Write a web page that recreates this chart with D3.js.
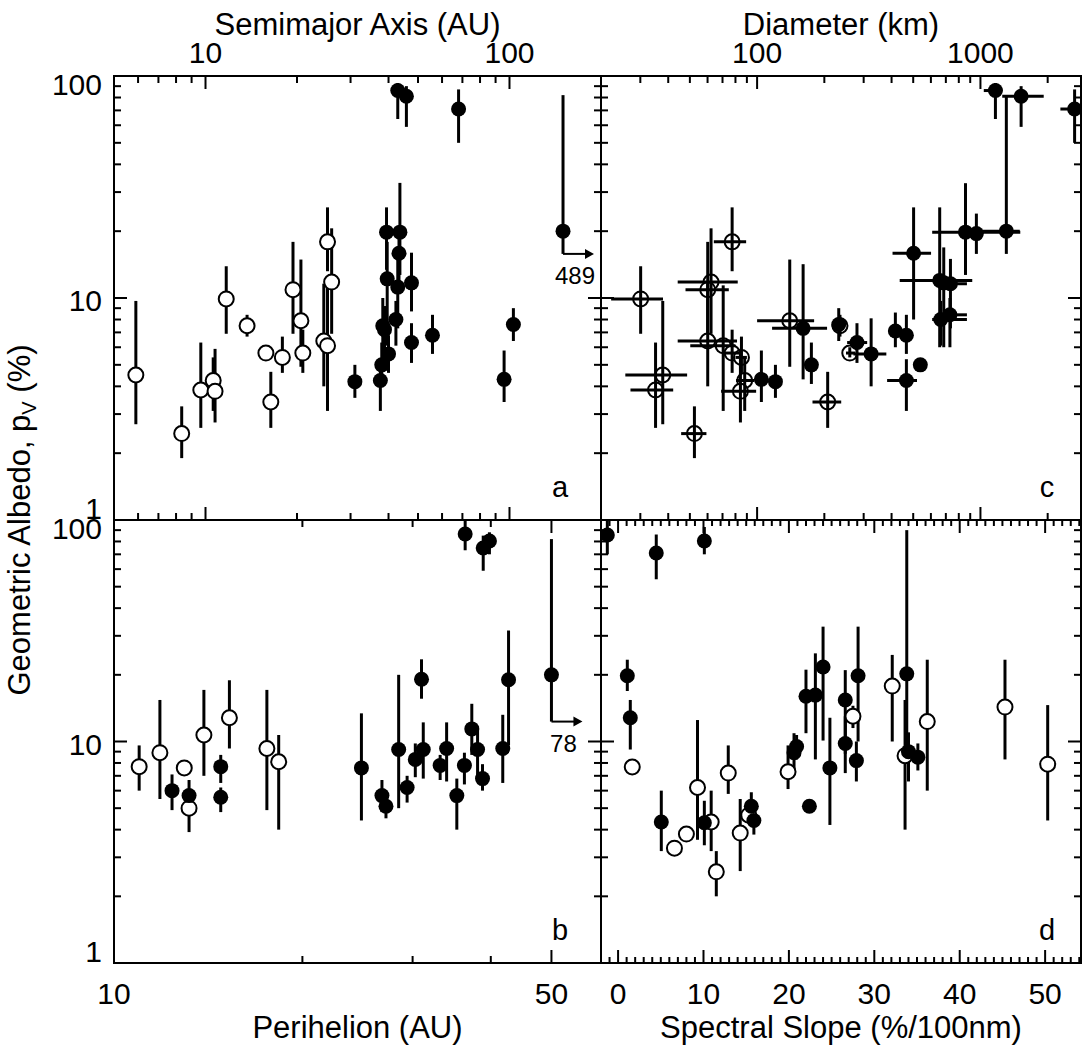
<!DOCTYPE html>
<html>
<head>
<meta charset="utf-8">
<script src="https://cdn.jsdelivr.net/npm/d3@7"></script>
<style>
  body { margin: 0; background: #fff; }
  text { font-family: "Liberation Sans", Arial, Helvetica, sans-serif; fill: #000; }
</style>
</head>
<body>
<div id="chart"></div>
<script>
//albedo vs orbit / size / colour, four panels a-d

//panel a : semimajor axis (AU), albedo (%), albedo low, albedo high
var semiOpen = [
  [5.9, 4.5, 2.7, 9.7], [8.35, 2.45, 1.9, 3.25], [9.65, 3.85, 2.6, 6.3],
  [10.6, 4.25, 3.1, 5.4], [10.75, 3.8, 2.75, 5.9], [11.7, 9.9, 6.9, 13.9],
  [13.7, 7.5, 6.7, 8.4], [15.8, 5.65, 5.4, 6.0], [16.4, 3.4, 2.6, 4.65],
  [17.9, 5.4, 4.6, 6.7], [19.4, 10.9, 6.9, 17.9], [20.6, 7.9, 4.9, 14.9],
  [20.9, 5.65, 4.6, 7.2], [24.5, 6.4, 4.0, 11.6], [25.2, 6.1, 3.1, 11.4],
  [25.2, 17.9, 13.2, 25.6], [26.0, 11.8, 6.9, 20.6]
];
var semiFilled = [
  [31.0, 4.2, 3.55, 5.0], [37.6, 4.25, 3.1, 5.3], [38.0, 5.0, 4.1, 6.3],
  [38.3, 7.5, 5.3, 10.0], [38.8, 7.2, 5.6, 9.2], [39.4, 19.8, 13.4, 25.6],
  [39.6, 12.2, 6.1, 17.9], [40.0, 5.6, 4.6, 6.8], [42.3, 8.0, 6.1, 9.7],
  [42.9, 11.2, 7.3, 14.9], [43.3, 15.9, 12.0, 20.5], [43.6, 19.8, 12.7, 33.0],
  [42.9, 86, 64, 93], [45.8, 81, 59, 90], [47.6, 11.7, 8.7, 16.0],
  [47.6, 6.3, 5.1, 7.7], [55.8, 6.8, 5.6, 8.4], [68.0, 71, 50, 87],
  [96.0, 4.3, 3.4, 5.8], [103, 7.6, 6.4, 9.0]
];
//object plotted at the edge with an arrow: axis value, albedo, low, high, true value
var semiArrow = [150, 20, 15.8, 82, "489"];

//panel b : perihelion (AU)
var periOpen = [
  [10.97, 7.7, 6.0, 9.6], [11.84, 8.9, 5.5, 15.4], [12.95, 7.6, 7.2, 8.0],
  [13.18, 5.0, 3.9, 6.0], [13.92, 10.7, 7.0, 17.1], [15.29, 12.8, 9.3, 18.9],
  [17.55, 9.3, 4.9, 17.1], [18.33, 8.1, 4.0, 10.7]
];
var periFilled = [
  [12.38, 6.0, 4.9, 7.1], [13.18, 5.7, 4.8, 6.7], [14.81, 7.7, 6.5, 8.7],
  [14.81, 5.6, 4.8, 6.2], [24.85, 7.6, 4.4, 13.4], [26.8, 5.7, 4.8, 6.7],
  [27.2, 5.1, 4.5, 5.8], [28.5, 9.2, 5.0, 20.0], [29.4, 6.2, 5.3, 7.0],
  [30.3, 8.3, 6.9, 9.8], [31.0, 19.1, 15.6, 23.5], [31.2, 9.2, 6.8, 12.2],
  [33.2, 7.8, 6.7, 8.7], [34.0, 9.3, 6.6, 12.2], [35.3, 5.7, 4.0, 6.8],
  [36.3, 7.8, 6.4, 8.9], [37.3, 11.4, 8.7, 14.8], [38.1, 9.2, 6.9, 11.7],
  [38.8, 6.8, 6.0, 7.9], [42.7, 19.0, 9.6, 31.7], [41.8, 9.3, 6.5, 13.2],
  [36.4, 86.5, 73, 100], [38.9, 74.7, 59, 85], [39.8, 80.4, 70, 88]
];
var periArrow = [50, 20, 12.3, 82, "78"];

//panel c : diameter (km), diameter low, diameter high, albedo, low, high
var diamOpen = [
  [30.1, 22.2, 37.9, 9.9, 6.9, 13.9], [37.8, 25.7, 48.6, 4.5, 2.7, 9.7],
  [35.1, 27.1, 42.1, 3.85, 2.6, 6.3], [52.4, 45.7, 59.3, 2.45, 1.9, 3.25],
  [62.2, 44.1, 81.9, 11.8, 6.9, 20.6], [60.1, 47.8, 74.7, 10.9, 6.9, 17.9],
  [60.1, 44.1, 81.3, 6.4, 4.0, 11.6], [70.5, 50.2, 80, 6.1, 3.1, 11.4],
  [77.3, 70, 86, 5.65, 4.6, 7.2], [77.3, 64.0, 89.3, 17.9, 13.2, 25.6],
  [85.1, 80, 90, 5.4, 4.6, 6.7], [88.0, 80.5, 97, 4.25, 3.1, 5.4],
  [84.2, 69.0, 99.0, 3.8, 2.75, 5.9], [140, 100, 180, 7.9, 4.9, 14.9],
  [207, 177, 238, 3.4, 2.6, 4.65], [260, 250, 275, 5.65, 5.4, 6.0],
  [235, 225, 245, 7.5, 6.7, 8.4]
];
var diamFilled = [
  [104.5, 100, 109, 4.3, 3.4, 5.8], [120.8, 115, 127, 4.2, 3.55, 5.0],
  [160.7, 116.7, 205.7, 7.3, 4.3, 14.2], [175, 165, 185, 5.0, 4.1, 6.3],
  [232, 222, 242, 7.6, 6.4, 9.0], [280, 253, 311, 6.3, 5.1, 7.7],
  [324, 270, 379, 5.6, 4.0, 8.1], [416, 405, 428, 7.1, 6.0, 8.6],
  [466, 455, 478, 6.8, 5.6, 8.4], [466, 382, 520, 4.25, 3.1, 5.3],
  [502, 404, 601, 15.9, 8.0, 25.6], [538, 538, 538, 5.0, 5.0, 5.0],
  [657, 435, 919, 12.0, 6.0, 25.6], [685, 670, 700, 11.7, 6.0, 16.9],
  [734, 620, 870, 11.6, 7.3, 15.0], [664, 608, 870, 8.0, 6.1, 9.7],
  [730, 700, 870, 8.4, 6.0, 10], [857, 608, 1508, 19.8, 12.7, 32.9],
  [959, 930, 990, 19.5, 15.8, 24], [1306, 1000, 1500, 20, 15.8, 82],
  [1167, 1035, 1252, 86, 64, 93], [1521, 1252, 1920, 81, 59, 90],
  [2640, 2280, 3000, 71, 50, 87]
];

//panel d : spectral slope (%/100nm), albedo, low, high
var slopeOpen = [
  [1.66, 7.67, 7.2, 8.1], [6.6, 3.3, 3.3, 3.3], [8.0, 3.82, 3.82, 3.82],
  [9.3, 6.2, 3.6, 12.5], [10.9, 4.33, 3.2, 6.0], [11.5, 2.58, 2.0, 3.2],
  [12.9, 7.2, 5.8, 9.6], [14.3, 3.86, 2.6, 5.5], [15.3, 4.65, 4.65, 4.65],
  [19.9, 7.3, 6.1, 9.6], [27.5, 13.0, 11.5, 14.5], [32.1, 17.8, 10.0, 24.6],
  [33.6, 8.63, 4.0, 15.4], [36.2, 12.3, 6.0, 23.4], [45.3, 14.3, 8.3, 23.4],
  [50.3, 7.9, 4.4, 14.6]
];
var slopeFilled = [
  [-1.26, 85.5, 70, 100], [4.47, 71, 54, 86], [10.1, 80.4, 70, 93],
  [1.08, 19.8, 16.9, 23.4], [1.43, 12.8, 9.2, 15.4], [5.06, 4.33, 3.2, 6.0],
  [10.1, 4.3, 3.4, 5.4], [15.6, 5.1, 4.5, 5.9], [15.9, 4.4, 3.8, 5.2],
  [20.6, 8.9, 7.4, 10.9], [20.9, 9.5, 8.3, 10.7], [22.0, 16.0, 10.9, 21.1],
  [22.4, 5.1, 4.8, 5.4], [23.1, 16.2, 8.3, 25], [24.0, 21.7, 10.1, 33],
  [24.8, 7.6, 4.2, 12.8], [26.6, 15.4, 8.8, 21], [26.6, 9.8, 7.2, 13],
  [27.9, 8.2, 6.6, 10], [28.1, 19.8, 10.0, 33], [33.8, 20.2, 8.3, 90],
  [34.0, 9.0, 6.6, 11], [35.1, 8.5, 7.4, 9.8]
];

//tick values
var albedoMajor = [1, 10, 100];
var albedoMinor = [2, 3, 4, 5, 6, 7, 8, 9, 20, 30, 40, 50, 60, 70, 80, 90];
var semiMajor = [10, 100];
var semiMinor = [6, 7, 8, 9, 20, 30, 40, 50, 60, 70, 80, 90, 200];
var periMajor = [10, 50];
var periMinor = [20, 30, 40];
var diamMajor = [100, 1000];
var diamMinor = [30, 40, 50, 60, 70, 80, 90, 200, 300, 400, 500, 600, 700, 800, 900, 2000];
var slopeMajor = [0, 10, 20, 30, 40, 50];
var slopeMinor = d3.range(-2, 55).filter(function(v){ return v % 10 !== 0; });

var w = 1086,
    h = 1049;

//frame edges
var L = 114, M = 601, R = 1081, T = 76, C = 520, B = 963;

var svg = d3.select("#chart").append("svg")
    .attr("width", w)
    .attr("height", h);

svg.append("rect")
    .attr("width", w)
    .attr("height", h)
    .attr("fill", "#fff");

//scales
var xSemi = d3.scaleLog().domain([5, 200]).range([L, M]);
var xPeri = d3.scaleLog().domain([10, 60]).range([L, M]);
var xDiam = d3.scaleLog().domain([20, 2820]).range([M, R]);
var xSlope = d3.scaleLinear().domain([-2, 54.2]).range([M, R]);
var yTop = d3.scaleLog().domain([1, 100]).range([C, T]);
var yBot = d3.scaleLog().domain([1, 100]).range([B, C]);

//clip paths, one per panel
var defs = svg.append("defs");
function addClip(id, x0, y0, x1, y1) {
  defs.append("clipPath").attr("id", id)
    .append("rect")
      .attr("x", x0).attr("y", y0)
      .attr("width", x1 - x0).attr("height", y1 - y0);
}
addClip("clipA", L, T, M, C);
addClip("clipB", L, C, M, B);
addClip("clipC", M, T, R, C);
addClip("clipD", M, C, R, B);

var axes = svg.append("g")
    .attr("stroke", "#000")
    .attr("stroke-width", 2)
    .attr("fill", "none");

//frames
axes.append("rect").attr("x", L).attr("y", T).attr("width", R - L).attr("height", B - T);
axes.append("line").attr("x1", M).attr("x2", M).attr("y1", T).attr("y2", B);
axes.append("line").attr("x1", L).attr("x2", R).attr("y1", C).attr("y2", C);

var MAJ = 13, MIN = 7;

function hTicks(scale, y, dir, majors, minors, minLen) {
  majors.forEach(function(v){
    axes.append("line")
      .attr("x1", scale(v)).attr("x2", scale(v))
      .attr("y1", y).attr("y2", y + dir * MAJ);
  });
  minors.forEach(function(v){
    axes.append("line")
      .attr("x1", scale(v)).attr("x2", scale(v))
      .attr("y1", y).attr("y2", y + dir * (minLen || MIN));
  });
}
function vTicks(scale, x, dir) {
  albedoMajor.forEach(function(v){
    axes.append("line")
      .attr("y1", scale(v)).attr("y2", scale(v))
      .attr("x1", x).attr("x2", x + dir * MAJ);
  });
  albedoMinor.forEach(function(v){
    axes.append("line")
      .attr("y1", scale(v)).attr("y2", scale(v))
      .attr("x1", x).attr("x2", x + dir * MIN);
  });
}

//panel a
hTicks(xSemi, T, 1, semiMajor, semiMinor);
hTicks(xSemi, C, -1, semiMajor, semiMinor);
vTicks(yTop, L, 1);
vTicks(yTop, M, -1);
//panel c
hTicks(xDiam, T, 1, diamMajor, diamMinor);
hTicks(xDiam, C, -1, diamMajor, diamMinor);
vTicks(yTop, M, 1);
vTicks(yTop, R, -1);
//panel b
hTicks(xPeri, C, 1, periMajor, periMinor);
hTicks(xPeri, B, -1, periMajor, periMinor);
vTicks(yBot, L, 1);
vTicks(yBot, M, -1);
//panel d
hTicks(xSlope, C, 1, slopeMajor, slopeMinor, 6);
hTicks(xSlope, B, -1, slopeMajor, slopeMinor, 6);
vTicks(yBot, M, 1);
vTicks(yBot, R, -1);

//tick labels
var labels = svg.append("g").attr("font-size", 30);

//albedo labels; top and bottom ones are nudged inside the panel
var yLabelShift = { 100: 8, 10: 2, 1: -12 };
[yTop, yBot].forEach(function(sc){
  albedoMajor.forEach(function(v){
    labels.append("text")
      .attr("x", 102)
      .attr("y", sc(v) + yLabelShift[v] + 11)
      .attr("text-anchor", "end")
      .text(v);
  });
});

semiMajor.forEach(function(v){
  labels.append("text").attr("x", xSemi(v)).attr("y", 63)
    .attr("text-anchor", "middle").text(v);
});
diamMajor.forEach(function(v){
  labels.append("text").attr("x", xDiam(v)).attr("y", 63)
    .attr("text-anchor", "middle").text(v);
});
periMajor.forEach(function(v){
  labels.append("text").attr("x", xPeri(v)).attr("y", 1004)
    .attr("text-anchor", "middle").text(v);
});
slopeMajor.forEach(function(v){
  labels.append("text").attr("x", xSlope(v)).attr("y", 1004)
    .attr("text-anchor", "middle").text(v);
});

//axis titles
var titles = svg.append("g").attr("font-size", 31).attr("text-anchor", "middle");
titles.append("text").attr("x", (L + M) / 2).attr("y", 35).text("Semimajor Axis (AU)");
titles.append("text").attr("x", (M + R) / 2).attr("y", 35).text("Diameter (km)");
titles.append("text").attr("x", (L + M) / 2).attr("y", 1038).text("Perihelion (AU)");
titles.append("text").attr("x", (M + R) / 2).attr("y", 1038).text("Spectral Slope (%/100nm)");

var ytitle = titles.append("text")
    .attr("transform", "translate(30," + C + ") rotate(-90)");
ytitle.append("tspan").text("Geometric Albedo, p");
ytitle.append("tspan").attr("font-size", 20).attr("dy", 6).text("V");
ytitle.append("tspan").attr("dy", -6).text(" (%)");

//panel letters
var letters = svg.append("g").attr("font-size", 29).attr("text-anchor", "middle");
letters.append("text").attr("x", 560).attr("y", 497).text("a");
letters.append("text").attr("x", 1047).attr("y", 497).text("c");
letters.append("text").attr("x", 560).attr("y", 940).text("b");
letters.append("text").attr("x", 1047).attr("y", 940).text("d");

var R_PT = 7.5;

//points with vertical error bars, circles drawn over the bars
function plotV(clip, xs, ys, open, filled) {
  var g = svg.append("g").attr("clip-path", "url(#" + clip + ")");
  var all = open.concat(filled);
  g.selectAll("line.err").data(all).enter().append("line")
    .attr("x1", function(d){ return xs(d[0]); })
    .attr("x2", function(d){ return xs(d[0]); })
    .attr("y1", function(d){ return ys(d[2]); })
    .attr("y2", function(d){ return ys(d[3]); })
    .attr("stroke", "#000")
    .attr("stroke-width", 3);
  g.selectAll("circle.open").data(open).enter().append("circle")
    .attr("cx", function(d){ return xs(d[0]); })
    .attr("cy", function(d){ return ys(d[1]); })
    .attr("r", R_PT)
    .attr("fill", "#fff")
    .attr("stroke", "#000")
    .attr("stroke-width", 2);
  g.selectAll("circle.fill").data(filled).enter().append("circle")
    .attr("cx", function(d){ return xs(d[0]); })
    .attr("cy", function(d){ return ys(d[1]); })
    .attr("r", R_PT)
    .attr("fill", "#000");
  return g;
}

function plotArrow(xs, ys, d) {
  var g = svg.append("g");
  var x0 = xs(d[0]), yp = ys(d[1]), yl = ys(d[2]);
  g.append("line")
    .attr("x1", x0).attr("x2", x0)
    .attr("y1", ys(d[3])).attr("y2", yl)
    .attr("stroke", "#000").attr("stroke-width", 3);
  g.append("line")
    .attr("x1", x0).attr("x2", x0 + 24)
    .attr("y1", yl).attr("y2", yl)
    .attr("stroke", "#000").attr("stroke-width", 2);
  g.append("path")
    .attr("d", "M" + (x0 + 31) + "," + yl + "L" + (x0 + 22) + "," + (yl - 5) + "L" + (x0 + 22) + "," + (yl + 5) + "Z")
    .attr("fill", "#000");
  g.append("circle")
    .attr("cx", x0).attr("cy", yp).attr("r", R_PT).attr("fill", "#000");
  g.append("text")
    .attr("x", x0 + 12).attr("y", yl + 30)
    .attr("font-size", 24)
    .attr("text-anchor", "middle")
    .text(d[4]);
}

plotV("clipA", xSemi, yTop, semiOpen, semiFilled);
plotArrow(xSemi, yTop, semiArrow);
plotV("clipB", xPeri, yBot, periOpen, periFilled);
plotArrow(xPeri, yBot, periArrow);
plotV("clipD", xSlope, yBot, slopeOpen, slopeFilled);

//panel c has bars in both directions drawn over the circles
var gc = svg.append("g").attr("clip-path", "url(#clipC)");
gc.selectAll("circle.open").data(diamOpen).enter().append("circle")
  .attr("cx", function(d){ return xDiam(d[0]); })
  .attr("cy", function(d){ return yTop(d[3]); })
  .attr("r", R_PT)
  .attr("fill", "#fff")
  .attr("stroke", "#000")
  .attr("stroke-width", 2);
gc.selectAll("circle.fill").data(diamFilled).enter().append("circle")
  .attr("cx", function(d){ return xDiam(d[0]); })
  .attr("cy", function(d){ return yTop(d[3]); })
  .attr("r", R_PT)
  .attr("fill", "#000");
var cAll = diamOpen.concat(diamFilled);
gc.selectAll("line.ex").data(cAll).enter().append("line")
  .attr("x1", function(d){ return xDiam(d[1]); })
  .attr("x2", function(d){ return xDiam(d[2]); })
  .attr("y1", function(d){ return yTop(d[3]); })
  .attr("y2", function(d){ return yTop(d[3]); })
  .attr("stroke", "#000")
  .attr("stroke-width", 3);
gc.selectAll("line.ey").data(cAll).enter().append("line")
  .attr("x1", function(d){ return xDiam(d[0]); })
  .attr("x2", function(d){ return xDiam(d[0]); })
  .attr("y1", function(d){ return yTop(d[4]); })
  .attr("y2", function(d){ return yTop(d[5]); })
  .attr("stroke", "#000")
  .attr("stroke-width", 3);
</script>
</body>
</html>
